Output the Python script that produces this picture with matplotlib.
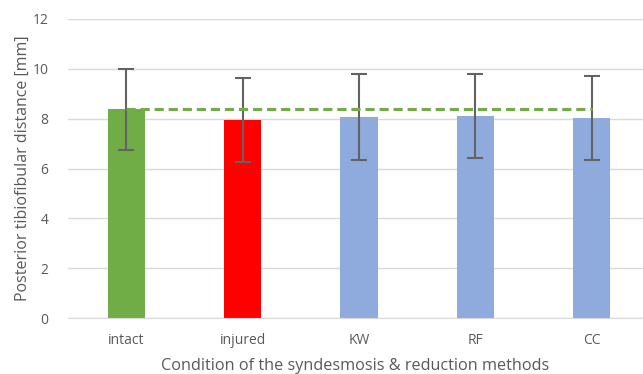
import numpy as np
import matplotlib.pyplot as plt

categories = ["intact", "injured", "KW", "RF", "CC"]
means = [8.37, 7.95, 8.07, 8.11, 8.03]
errors = [1.63, 1.70, 1.72, 1.68, 1.69]
colors = ["#70AD47", "#FF0000", "#8FAADC", "#8FAADC", "#8FAADC"]
ref_value = 8.37

plt.rcParams['font.family'] = ['Open Sans', 'DejaVu Sans']
txt = "#595959"

fig = plt.figure(figsize=(6.43, 3.74), dpi=100)
ax = fig.add_axes([68/643, 1-318/374, 1-68/643, 299/374])

x = np.arange(len(categories))
ax.bar(x, means, width=0.32, color=colors, zorder=2)
ax.errorbar(x, means, yerr=errors, fmt="none", ecolor="#636363",
            elinewidth=1.5, capsize=6, capthick=1.5, zorder=3)
ax.plot([x[0], x[-1]], [ref_value, ref_value], color="#70AD47",
        linestyle=(0, (3, 1.6)), linewidth=2.2, zorder=4)

ax.set_xlim(-0.5, 4.44)
ax.set_ylim(0, 12)
ax.set_yticks(range(0, 13, 2))
ax.set_xticks(x)
ax.set_xticklabels(categories)
ax.grid(axis="y", color="#D9D9D9", linewidth=1, zorder=0)
for s in ["top", "right", "left"]:
    ax.spines[s].set_visible(False)
ax.spines["bottom"].set_color("#D9D9D9")
ax.tick_params(length=0, colors=txt, labelsize=10)
ax.tick_params(axis="y", pad=14)
ax.tick_params(axis="x", pad=11)
ax.set_ylabel("Posterior tibiofibular distance [mm]", color=txt, fontsize=11.5, labelpad=1)
ax.set_xlabel("Condition of the syndesmosis & reduction methods", color=txt, fontsize=11.7, labelpad=7)

fig.savefig("out.png", dpi=100)
